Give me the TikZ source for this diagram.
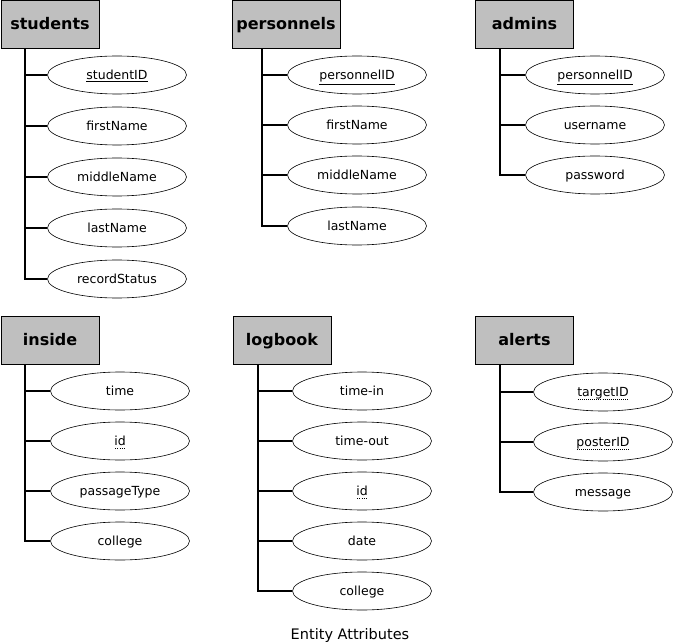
\documentclass[tikz,border=0pt]{standalone}
\usepackage{fontspec}
\setmainfont{DejaVu Sans}
\usetikzlibrary{shapes.geometric}

% primary key: solid underline, foreign key: dotted underline
\newcommand{\pkey}[1]{\underline{#1}}
\newcommand{\fkey}[1]{\setbox0=\hbox{#1}\rlap{\copy0}\raisebox{-2.8pt}{\hbox to \wd0{\xleaders\hbox to 2pt{\hss\rule{1pt}{0.7pt}\hss}\hfill}}}

\begin{document}
\begin{tikzpicture}[
        x=1pt, y=-1pt,
        entity/.style={draw, line width=1pt, fill=black!25, minimum width=98pt, minimum height=48pt, inner sep=0pt, text height=0.95em, text depth=0em, font=\fontsize{16}{19}\selectfont\bfseries},
        attr/.style={draw, ellipse, line width=0.6pt, minimum width=139pt, minimum height=38pt, inner sep=0pt, text height=0.95em, text depth=0em, font=\fontsize{12.5}{15}\selectfont},
        trunk/.style={line width=2pt}
    ]
    \useasboundingbox (0,0) rectangle (674,644);

    % Entity boxes, top row
    \node[entity] (students) at (50, 25) {students};
    \node[entity, minimum width=108pt] (personnels) at (286, 25) {personnels};
    \node[entity] (admins) at (524.5, 25) {admins};

    % Entity boxes, bottom row
    \node[entity] (inside) at (50, 340.5) {inside};
    \node[entity] (logbook) at (282, 340.5) {logbook};
    \node[entity] (alerts) at (524.5, 340.5) {alerts};

    % students attributes
    \node[attr] (studentID) at (117, 75) {\pkey{studentID}};
    \node[attr] (sFirst) at (117, 126) {firstName};
    \node[attr] (sMiddle) at (117, 177) {middleName};
    \node[attr] (sLast) at (117, 228) {lastName};
    \node[attr] (recordStatus) at (117, 279) {recordStatus};

    % personnels attributes
    \node[attr] (personnelID) at (357, 75) {\pkey{personnelID}};
    \node[attr] (pFirst) at (357, 125) {firstName};
    \node[attr] (pMiddle) at (357, 175) {middleName};
    \node[attr] (pLast) at (357, 226) {lastName};

    % admins attributes
    \node[attr] (aID) at (595, 75) {\pkey{personnelID}};
    \node[attr] (username) at (595, 125) {username};
    \node[attr] (password) at (595, 175) {password};

    % inside attributes
    \node[attr] (iTime) at (120, 391) {time};
    \node[attr] (iID) at (120, 441) {\fkey{id}};
    \node[attr] (passageType) at (120, 491) {passageType};
    \node[attr] (iCollege) at (120, 541) {college};

    % logbook attributes
    \node[attr] (timeIn) at (362, 391) {time-in};
    \node[attr] (timeOut) at (362, 441) {time-out};
    \node[attr] (lID) at (362, 491) {\fkey{id}};
    \node[attr] (date) at (362, 541) {date};
    \node[attr] (lCollege) at (362, 591) {college};

    % alerts attributes
    \node[attr] (targetID) at (603, 392) {\fkey{targetID}};
    \node[attr] (posterID) at (603, 442) {\fkey{posterID}};
    \node[attr] (message) at (603, 492) {message};

    % Trunk tops
    \coordinate (sTop) at (25, 49);
    \coordinate (pTop) at (262, 49);
    \coordinate (aTop) at (500, 49);
    \coordinate (iTop) at (25, 365);
    \coordinate (lTop) at (258, 365);
    \coordinate (alTop) at (500, 365);

    % students links
    \draw[trunk] (sTop) |- (recordStatus.west);
    \draw[trunk] (sTop |- studentID.west) -- (studentID.west);
    \draw[trunk] (sTop |- sFirst.west) -- (sFirst.west);
    \draw[trunk] (sTop |- sMiddle.west) -- (sMiddle.west);
    \draw[trunk] (sTop |- sLast.west) -- (sLast.west);

    % personnels links
    \draw[trunk] (pTop) |- (pLast.west);
    \draw[trunk] (pTop |- personnelID.west) -- (personnelID.west);
    \draw[trunk] (pTop |- pFirst.west) -- (pFirst.west);
    \draw[trunk] (pTop |- pMiddle.west) -- (pMiddle.west);

    % admins links
    \draw[trunk] (aTop) |- (password.west);
    \draw[trunk] (aTop |- aID.west) -- (aID.west);
    \draw[trunk] (aTop |- username.west) -- (username.west);

    % inside links
    \draw[trunk] (iTop) |- (iCollege.west);
    \draw[trunk] (iTop |- iTime.west) -- (iTime.west);
    \draw[trunk] (iTop |- iID.west) -- (iID.west);
    \draw[trunk] (iTop |- passageType.west) -- (passageType.west);

    % logbook links
    \draw[trunk] (lTop) |- (lCollege.west);
    \draw[trunk] (lTop |- timeIn.west) -- (timeIn.west);
    \draw[trunk] (lTop |- timeOut.west) -- (timeOut.west);
    \draw[trunk] (lTop |- lID.west) -- (lID.west);
    \draw[trunk] (lTop |- date.west) -- (date.west);

    % alerts links
    \draw[trunk] (alTop) |- (message.west);
    \draw[trunk] (alTop |- targetID.west) -- (targetID.west);
    \draw[trunk] (alTop |- posterID.west) -- (posterID.west);

    % Caption
    \node[font=\fontsize{14.5}{17}\selectfont] (caption) at (350, 635) {Entity Attributes};

\end{tikzpicture}
\end{document}
